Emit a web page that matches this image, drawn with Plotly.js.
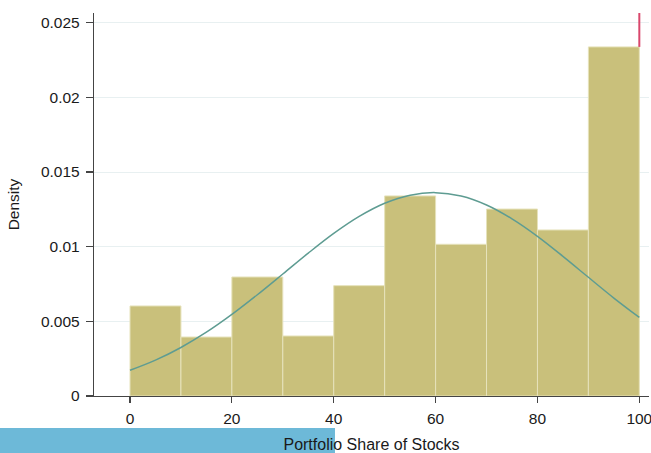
<!DOCTYPE html>
<html>
<head>
<meta charset="utf-8">
<script src="https://cdn.plot.ly/plotly-3.0.1.min.js"></script>
<style>html,body{margin:0;padding:0;background:#fff;}#chart{width:651px;height:453px;}</style>
</head>
<body>
<div id="chart"></div>
<script>
// Histogram bins (left edges, width 10) and densities
var binStarts = [0, 10, 20, 30, 40, 50, 60, 70, 80, 90];
var binWidth = 10;
var densities = [0.00603, 0.00395, 0.00797, 0.00402, 0.00739, 0.0134, 0.01016, 0.01252, 0.01112, 0.02338];

// Overlaid normal density curve
var curveX = [0, 5, 10, 15, 20, 25, 30, 35, 40, 45, 50, 55, 60, 65, 70, 75, 80, 85, 90, 95, 100];
var curveY = [0.00172, 0.00240, 0.00325, 0.00427, 0.00546, 0.00678, 0.00817, 0.00957, 0.01089, 0.01203, 0.01291, 0.01345, 0.01362, 0.01339, 0.01279, 0.01186, 0.01069, 0.00935, 0.00795, 0.00656, 0.00526];

// Red marker line at the right edge
var markX = [100, 100];
var markY = [0.02338, 0.02565];

// Tick labels
var xTicks = [0, 20, 40, 60, 80, 100];
var xTickText = ['0', '20', '40', '60', '80', '100'];
var yTicks = [0, 0.005, 0.01, 0.015, 0.02, 0.025];
var yTickText = ['0', '0.005', '0.01', '0.015', '0.02', '0.025'];

var traces = [
  {
    type: 'bar', x: binStarts, y: densities, width: binWidth, offset: 0,
    marker: {color: '#c9c07b', line: {color: '#e6e2bb', width: 1}},
    hoverinfo: 'x+y', showlegend: false
  },
  {
    type: 'scatter', mode: 'lines', x: curveX, y: curveY,
    line: {color: '#5e9c92', width: 1.5, shape: 'spline'}, showlegend: false
  },
  {
    type: 'scatter', mode: 'lines', x: markX, y: markY,
    line: {color: '#d9476c', width: 2}, showlegend: false
  }
];

var layout = {
  width: 651, height: 453,
  margin: {l: 94, r: 2, t: 13, b: 57},
  paper_bgcolor: '#ffffff', plot_bgcolor: '#ffffff',
  font: {family: '"Liberation Sans", Arial, sans-serif', size: 15.5, color: '#1a1a1a'},
  bargap: 0,
  xaxis: {
    range: [-7.07, 101.9], tickvals: xTicks, ticktext: xTickText,
    showgrid: false, zeroline: false, showline: true, linecolor: '#444', linewidth: 1.2,
    ticks: 'outside', ticklen: 6, tickcolor: '#444', tickwidth: 1.2,
    ticklabelstandoff: 2, ticklabeloverflow: 'allow',
    automargin: false,
    title: {text: 'Portfolio Share of Stocks', standoff: 17, font: {size: 16}}
  },
  yaxis: {
    range: [0, 0.02565], tickvals: yTicks, ticktext: yTickText,
    showgrid: true, gridcolor: '#e8f0f1', gridwidth: 1, zeroline: false,
    showline: true, linecolor: '#444', linewidth: 1.2,
    ticks: 'outside', ticklen: 7, tickcolor: '#444', tickwidth: 1.2,
    ticklabelstandoff: 3,
    automargin: false,
    title: {text: 'Density', standoff: 17, font: {size: 15.5}}
  },
  shapes: [
    {type: 'rect', xref: 'paper', yref: 'paper', x0: -0.1694, x1: 0.4342, y0: -0.1488, y1: -0.0836,
     fillcolor: '#6db9d8', line: {width: 0}, layer: 'above'}
  ]
};

Plotly.newPlot('chart', traces, layout, {displayModeBar: false, staticPlot: true});
</script>
</body>
</html>
